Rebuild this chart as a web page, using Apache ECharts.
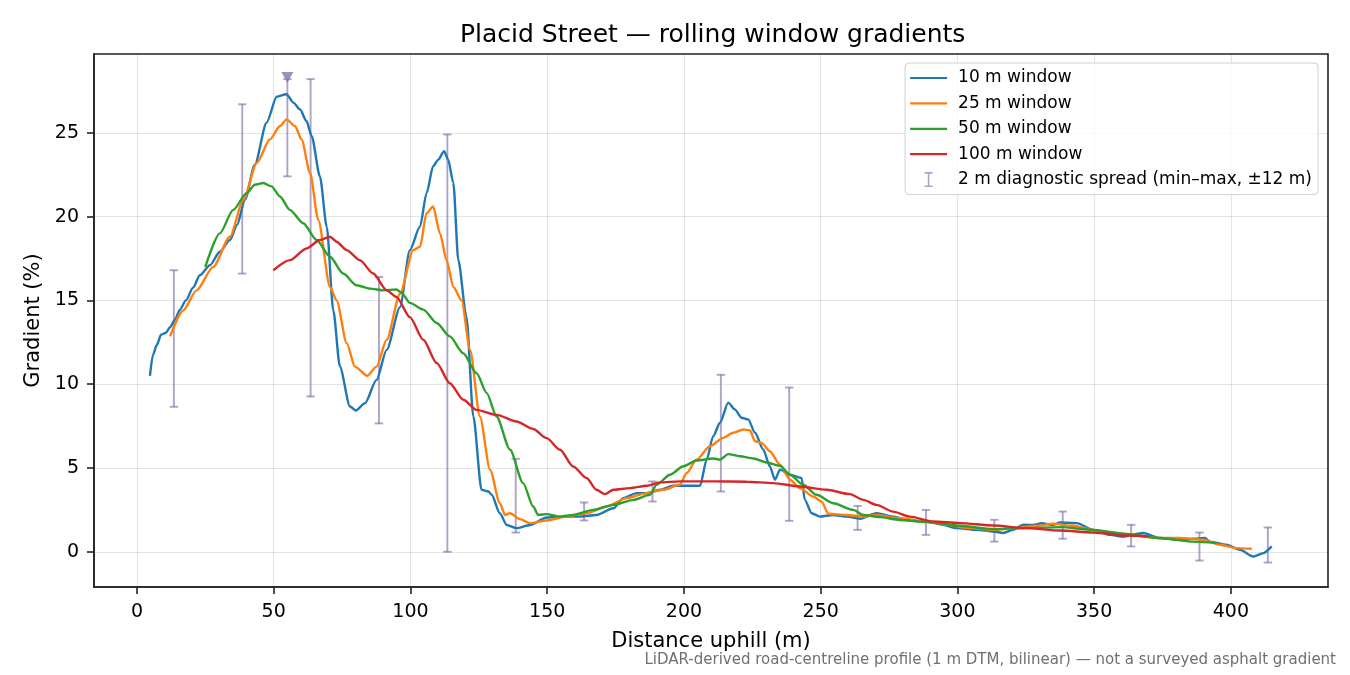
<!DOCTYPE html>
<html>
<head>
<meta charset="utf-8">
<title>Placid Street — rolling window gradients</title>
<script src="https://cdn.jsdelivr.net/npm/echarts@6/dist/echarts.min.js"></script>
<style>
  html, body { margin: 0; padding: 0; background: #fff; }
  #chart { width: 1350px; height: 675px; }
</style>
</head>
<body>
<div id="chart"></div>
<script>
// distances (m) and gradients (%), one pair of arrays per window
const x10 = [4.75, 5.85, 7.3, 8.8, 10.6, 12.1, 13.9, 15.7, 17.9, 20.5, 23, 26.7, 30.3, 34, 36.6, 39.5, 43.1, 47.4, 51.1, 54.7,
  57.2, 59.6, 62, 63.9, 66.9, 69.4, 71.8, 74.2, 77.9, 80, 83.4, 87.6, 91.3, 96.2, 99.8, 103.5, 105.9, 108.3, 110.2, 112.3,
  113.8, 115.7, 117.5, 120.5, 123, 126, 128.5, 129.7, 132.7, 135.2, 138.8, 143.7, 149.8, 155.9, 162, 168, 174.2, 177.8, 182.7, 186.4,
  191.2, 196.1, 201, 205.9, 208.3, 210.7, 213.2, 216.2, 218.6, 221.1, 223.5, 226, 229, 231.4, 233.3, 235.1, 238.8, 243, 244.2, 246.7,
  249.7, 254.6, 259.5, 264.4, 270.4, 276.5, 282.6, 288.7, 294.8, 299.7, 307, 313.1, 316.8, 320.4, 324.1, 327.7, 330.8, 335, 337.5, 343.6,
  349.7, 355.8, 360.6, 367.9, 374, 380.1, 386.2, 390.5, 392.3, 398.4, 403.3, 408.2, 411.8, 414.9];
const y10 = [10.5, 11.75, 12.35, 12.95, 13.07, 13.4, 13.85, 14.45, 15.0, 15.75, 16.5, 17.1, 17.9, 18.6, 19.5, 21.0, 23.1, 25.6, 27.15, 27.3,
  26.8, 26.4, 25.7, 24.8, 22.4, 19.4, 14.4, 11.06, 8.67, 8.43, 8.87, 10.26, 12.05, 14.6, 18.0, 19.4, 21.4, 23.0, 23.4, 23.9,
  23.4, 22.0, 17.4, 14.0, 8.07, 3.7, 3.6, 3.4, 2.3, 1.6, 1.41, 1.6, 2.05, 2.1, 2.1, 2.2, 2.6, 3.2, 3.5, 3.5,
  3.7, 3.94, 3.94, 3.94, 5.5, 6.9, 7.7, 8.9, 8.5, 8.0, 7.9, 7.1, 6.1, 5.1, 4.3, 4.9, 4.6, 4.4, 3.1, 2.3,
  2.1, 2.2, 2.1, 1.97, 2.3, 2.1, 1.87, 1.81, 1.61, 1.41, 1.31, 1.21, 1.12, 1.31, 1.61, 1.6, 1.7, 1.6, 1.75, 1.71,
  1.31, 1.01, 0.91, 1.12, 0.82, 0.72, 0.78, 0.82, 0.61, 0.42, 0.12, -0.28, -0.08, 0.32];

const x25 = [12.1, 16.9, 21.8, 27.9, 34, 38.9, 43.8, 48.6, 52.3, 54.7, 57.8, 60.2, 63.3, 66.3, 70.6, 73, 76.7, 79.7, 84.2, 87.6,
  91.3, 96.2, 101, 103.5, 105.9, 108.3, 110.8, 113.2, 115.7, 118.7, 121.8, 125.4, 129.1, 132.7, 134.6, 136.4, 140, 143.7, 149.8, 157.1,
  164.4, 171.7, 179, 186.4, 192.4, 198.5, 201, 204.6, 209.5, 214.4, 218, 221.7, 224.1, 226, 228.4, 231.4, 235.1, 238.8, 242.4, 247.3,
  250.3, 252.8, 259.5, 265.6, 270.4, 279, 288.7, 296, 304.6, 313.1, 321.6, 329, 335, 342.3, 349.7, 357, 365.5, 374, 381.3, 389.8,
  396, 402, 407.6];
const y25 = [12.85, 14.4, 15.6, 17.0, 18.8, 21.0, 23.2, 24.6, 25.4, 25.8, 25.4, 24.6, 22.6, 19.8, 15.8, 15.0, 12.45, 11.05, 10.5, 11.05,
  12.65, 15.4, 18.0, 18.2, 20.2, 20.6, 19.0, 17.4, 15.8, 15.0, 12.05, 8.07, 4.9, 2.9, 2.2, 2.3, 1.95, 1.71, 1.87, 2.1,
  2.3, 2.7, 3.2, 3.5, 3.7, 4.0, 4.7, 5.5, 6.3, 6.8, 7.1, 7.3, 7.25, 6.6, 6.5, 6.0, 5.2, 4.3, 3.8, 3.3,
  3.0, 2.27, 2.2, 2.1, 2.2, 2.0, 1.81, 1.61, 1.41, 1.31, 1.41, 1.55, 1.67, 1.55, 1.31, 1.12, 0.95, 0.82, 0.82, 0.72,
  0.42, 0.22, 0.18];

const x50 = [25, 30.3, 35.2, 40.1, 43.1, 46.2, 49.2, 52.3, 55.9, 60.8, 65.7, 70.6, 75.4, 80.3, 85.2, 90.1, 94.9, 96.8, 99.8, 104.7,
  109.6, 114.4, 119.3, 124.2, 127.9, 131.5, 136.4, 141.2, 144.9, 146.7, 149.8, 154.7, 159.5, 166.8, 174.2, 181.5, 187.6, 190, 194.9, 199.8,
  204.6, 210.7, 213.2, 216.2, 220.5, 225.4, 230.2, 235.1, 238.8, 243.6, 248.5, 254.6, 261.9, 265.6, 271.7, 279, 288.7, 300.9, 313.1, 325.3,
  337.5, 349.7, 361.9, 374, 386.2, 394.8];
const y50 = [17.0, 19.0, 20.4, 21.4, 21.9, 22.0, 21.8, 21.2, 20.4, 19.6, 18.6, 17.6, 16.6, 15.9, 15.7, 15.6, 15.65, 15.45, 14.85, 14.45,
  13.65, 12.85, 11.85, 10.65, 9.47, 8.07, 6.1, 4.1, 2.7, 2.2, 2.25, 2.1, 2.2, 2.5, 2.8, 3.1, 3.4, 4.0, 4.6, 5.1,
  5.45, 5.57, 5.5, 5.83, 5.7, 5.57, 5.33, 5.13, 4.6, 4.0, 3.4, 2.9, 2.5, 2.2, 2.07, 1.9, 1.77, 1.55, 1.35, 1.41,
  1.47, 1.31, 1.07, 0.82, 0.61, 0.52];

const x100 = [49.9, 55.9, 62, 66.9, 70.6, 73, 76.7, 81.5, 86.4, 91.3, 94.9, 99.8, 104.7, 109.6, 114.4, 119.3, 124.2, 131.5, 138.8, 144.9,
  149.8, 154.7, 159.5, 164.4, 168, 171.1, 174.2, 180.3, 186.4, 191.2, 198.5, 210.7, 222.9, 232.7, 242.4, 252.2, 260.7, 265.6, 270.4, 276.5,
  282.6, 291.1, 300.9, 313.1, 325.3, 337.5, 349.7, 361.9, 369.8];
const y100 = [16.8, 17.4, 18.1, 18.6, 18.8, 18.5, 18.0, 17.4, 16.6, 15.6, 15.2, 14.0, 12.65, 11.26, 10.06, 9.07, 8.47, 8.17, 7.77, 7.33,
  6.78, 6.09, 5.09, 4.4, 3.7, 3.44, 3.7, 3.8, 3.94, 4.14, 4.2, 4.2, 4.18, 4.1, 3.9, 3.7, 3.44, 3.1, 2.8, 2.4,
  2.1, 1.81, 1.71, 1.57, 1.41, 1.27, 1.15, 0.97, 0.91];

// 2 m diagnostic spread: min and max of the 2 m gradient within ±12 m
const spreadX = [13.5, 38.5, 55, 63.5, 88.5, 113.5, 138.5, 163.5, 188.5, 213.5, 238.5, 263.5, 288.5, 313.5, 338.5, 363.5, 388.5, 413.5];
const spreadMin = [8.65, 16.6, 22.4, 9.27, 7.66, 0.0, 1.15, 1.87, 3.0, 3.6, 1.85, 1.31, 1.01, 0.61, 0.78, 0.32, -0.52, -0.64];
const spreadMax = [16.8, 26.7, 28.2, 28.2, 16.4, 24.9, 5.55, 2.94, 4.2, 10.56, 9.8, 2.74, 2.5, 1.91, 2.4, 1.61, 1.15, 1.45];

// steepest 2 m reading
const peakX = [55];
const peakY = [28.3];

const xTicks = [0, 50, 100, 150, 200, 250, 300, 350, 400];
const yTicks = [0, 5, 10, 15, 20, 25];

const FONT = 'DejaVu Sans';
const spreadColor = 'rgba(125, 105, 165, 0.62)';
const frame = { color: '#222', width: 1.6 };

// legend glyphs; the bare moves fix the box so echarts doesn't stretch them
const lineIcon = 'path://M0,0 M43,15 M0,6.4h37v2.2h-37z';
const barIcon = 'path://M0,0 M43,15 M14.5,0h8v1.6h-3.2v11.8h3.2v1.6h-8v-1.6h3.2v-11.8h-3.2z';

function pairs(xs, ys) {
  return xs.map((x, i) => [x, ys[i]]);
}

function lineSeries(name, color, xs, ys) {
  return {
    name: name,
    type: 'line',
    data: pairs(xs, ys),
    symbol: 'none',
    showSymbol: false,
    smooth: 0.25,
    smoothMonotone: 'x',
    lineStyle: { color: color, width: 2.4 },
    itemStyle: { color: color },
    z: 3
  };
}

const chart = echarts.init(document.getElementById('chart'), null, { renderer: 'canvas' });

const option = {
  backgroundColor: '#fff',
  animation: false,
  title: {
    text: 'Placid Street — rolling window gradients',
    left: 455,
    top: 18,
    textStyle: { fontFamily: FONT, fontSize: 25, fontWeight: 'normal', color: '#000' }
  },
  legend: {
    right: 32,
    top: 63,
    orient: 'vertical',
    itemWidth: 43,
    itemHeight: 15,
    itemGap: 8.4,
    padding: [6.5, 6, 6.5, 5],
    backgroundColor: 'rgba(255,255,255,0.8)',
    borderColor: '#d0d0d0',
    borderWidth: 1,
    borderRadius: 4,
    textStyle: { fontFamily: FONT, fontSize: 17, color: '#000' },
    data: [
      { name: '10 m window', icon: lineIcon },
      { name: '25 m window', icon: lineIcon },
      { name: '50 m window', icon: lineIcon },
      { name: '100 m window', icon: lineIcon },
      { name: '2 m diagnostic spread (min–max, ±12 m)', icon: barIcon, itemStyle: { color: spreadColor } }
    ]
  },
  grid: {
    left: 94,
    right: 22,
    top: 54,
    bottom: 88,
    show: true,
    borderColor: frame.color,
    borderWidth: frame.width,
    containLabel: false
  },
  xAxis: {
    type: 'value',
    min: -15.7,
    max: 435.5,
    name: 'Distance uphill (m)',
    nameLocation: 'middle',
    nameGap: 44,
    nameTextStyle: { fontFamily: FONT, fontSize: 21, color: '#000' },
    axisLine: { show: true, onZero: false, lineStyle: frame },
    axisTick: { show: true, length: 7, lineStyle: frame, customValues: xTicks },
    axisLabel: { fontFamily: FONT, fontSize: 19, color: '#000', margin: 16, customValues: xTicks },
    splitLine: { show: true, lineStyle: { color: 'rgba(0,0,0,0.1)', width: 1.2 } }
  },
  yAxis: {
    type: 'value',
    min: -2.1,
    max: 29.7,
    name: 'Gradient (%)',
    nameLocation: 'middle',
    nameGap: 49,
    nameTextStyle: { fontFamily: FONT, fontSize: 21, color: '#000' },
    axisLine: { show: true, onZero: false, lineStyle: frame },
    axisTick: { show: true, length: 7, lineStyle: frame, customValues: yTicks },
    axisLabel: { fontFamily: FONT, fontSize: 19, color: '#000', margin: 15, customValues: yTicks },
    splitLine: { show: true, lineStyle: { color: 'rgba(0,0,0,0.1)', width: 1.2 } }
  },
  graphic: [
    {
      type: 'text',
      right: 14,
      top: 653,
      style: {
        text: 'LiDAR-derived road-centreline profile (1 m DTM, bilinear) — not a surveyed asphalt gradient',
        fontFamily: FONT,
        fontSize: 15,
        fill: '#707070'
      }
    }
  ],
  series: [
    {
      name: '2 m diagnostic spread (min–max, ±12 m)',
      type: 'custom',
      data: spreadX.map((x, i) => [x, spreadMin[i], spreadMax[i]]),
      encode: { x: 0, y: [1, 2] },
      itemStyle: { color: spreadColor },
      z: 2,
      renderItem: function (params, api) {
        const lo = api.coord([api.value(0), api.value(1)]);
        const hi = api.coord([api.value(0), api.value(2)]);
        const cap = 4.2;
        const style = { stroke: spreadColor, lineWidth: 1.9, fill: null };
        return {
          type: 'group',
          children: [
            { type: 'line', shape: { x1: lo[0], y1: lo[1], x2: hi[0], y2: hi[1] }, style: style },
            { type: 'line', shape: { x1: lo[0] - cap, y1: lo[1], x2: lo[0] + cap, y2: lo[1] }, style: style },
            { type: 'line', shape: { x1: hi[0] - cap, y1: hi[1], x2: hi[0] + cap, y2: hi[1] }, style: style }
          ]
        };
      }
    },
    lineSeries('10 m window', '#1f77b4', x10, y10),
    lineSeries('25 m window', '#ff7f0e', x25, y25),
    lineSeries('50 m window', '#2ca02c', x50, y50),
    lineSeries('100 m window', '#d62728', x100, y100),
    {
      name: 'peak',
      type: 'scatter',
      data: pairs(peakX, peakY),
      symbol: 'triangle',
      symbolRotate: 180,
      symbolSize: [12, 11],
      itemStyle: { color: '#8777a8' },
      z: 5
    }
  ]
};

chart.setOption(option);
</script>
</body>
</html>
